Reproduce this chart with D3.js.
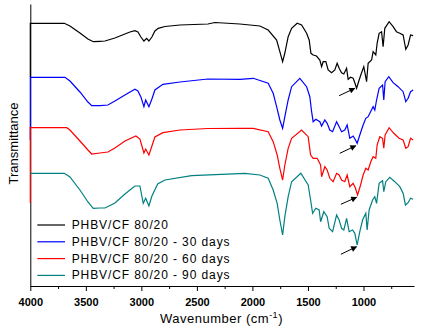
<!DOCTYPE html>
<html>
<head>
<meta charset="utf-8">
<script src="https://cdn.jsdelivr.net/npm/d3@7"></script>
<style>
  html, body { margin: 0; padding: 0; background: #fff; }
  svg { display: block; font-family: "Liberation Sans", Arial, sans-serif; }
</style>
</head>
<body>
<svg id="chart" width="437" height="331"></svg>
<script>
// ---- Data (wavenumber in cm^-1, transmittance in arbitrary offset units) ----
const seriesNames = ["PHBV/CF 80/20", "PHBV/CF 80/20 - 30 days", "PHBV/CF 80/20 - 60 days", "PHBV/CF 80/20 - 90 days"];
const seriesColors = ["#000000", "#0000ff", "#ff0000", "#008080"];

const wnBlack = [4000,4000,3694,3643,3553,3481,3433,3373,3328,3238,3148,3103,3058,3031,3004,2977,2952,2932,2905,2878,2848,2788,2653,2401,2338,2113,1933,1858,1782,1753,1728,1708,1678,1647,1597,1557,1512,1489,1473,1453,1423,1393,1377,1363,1339,1318,1287,1258,1237,1219,1197,1177,1152,1138,1116,1093,1078,1062,1039,1017,997,972,958,927,913,889,877,859,837,823,808,769,733,703,673,643,619,598,576,553];
const tBlack = [209,262.7,262.7,260,253,247,244.3,244.7,245,248,252,254,255.3,254,249,245,247.7,245,249,255,257.7,259.5,261,262,263.5,262,260,256,246,234.3,224.3,233,249.3,257.7,262.7,261,252.7,246,232.7,231,230,226,219.3,224.3,224.3,216,213.3,216,222.7,217.7,213.3,212,217.7,206.7,208.7,207.7,203.3,197.7,206,213.3,219.3,204.3,222.7,226,234.3,231,242.7,252.7,254.3,239.3,257.7,264.3,259.3,254.3,252.7,251,236.7,241,251,250.3];

const wnBlue = [4000,4000,3688,3643,3553,3481,3447,3373,3301,3238,3148,3058,3031,3004,2977,2961,2932,2905,2878,2806,2653,2401,2113,1993,1858,1813,1782,1753,1728,1708,1678,1647,1573,1512,1483,1467,1453,1429,1393,1377,1348,1327,1303,1278,1242,1219,1197,1168,1147,1123,1093,1072,1057,1033,1003,979,958,936,913,898,882,859,828,817,805,772,733,688,643,619,598,576,553];
const tBlue = [146,208.7,208.7,205,194,184,180.3,180.3,181,185,191,196.7,195,189,179.3,186,179.3,187,196,201.7,204,207,206.7,207.7,202.7,192.7,179.3,166,157.7,169.3,186,199.3,207.7,199.3,189.3,174.3,164.3,166.7,164.3,160,166,162.7,156,154.3,164.3,159.3,154.3,156,161,147.7,150,146,142.7,151,161,167.7,169.3,174.3,179.3,176,186,197.7,201,186,204.3,209.3,203.3,199.3,194.3,184.3,187.7,194.3,196];

const wnRed = [4000,4000,3672,3643,3553,3481,3447,3373,3301,3238,3148,3049,3013,2995,2977,2961,2932,2905,2878,2806,2653,2401,2113,1993,1858,1813,1777,1753,1728,1708,1678,1647,1557,1498,1476,1453,1417,1386,1377,1348,1327,1303,1273,1242,1219,1197,1168,1147,1123,1093,1072,1053,1026,1003,979,958,934,913,889,877,853,828,817,805,769,727,679,643,619,598,576,553];
const tRed = [83,158.3,158.3,156,145,136,132,133,134,138,145,150,147,140,133,137,131,140,149,153.3,156,157.5,157.7,157.7,154.3,144.3,131,117.7,106,121,137.7,147.7,156,149.3,131,127.7,127.7,121,109.3,119.3,116,107.7,104.3,112.7,111,106,104.3,111,99.3,102.7,97.7,91,101,111,117.7,116,124.3,129.3,127.7,141,149.3,147.7,137.7,151,158.3,152.7,147.7,146,137.7,139.3,147.7,146];

const wnTeal = [4000,3694,3643,3553,3481,3433,3373,3328,3238,3148,3058,3013,2983,2961,2932,2905,2853,2788,2547,2068,1933,1858,1813,1777,1753,1728,1708,1678,1647,1564,1498,1476,1458,1429,1399,1386,1357,1327,1309,1278,1242,1219,1197,1177,1152,1129,1098,1078,1057,1033,1008,979,967,949,918,898,882,859,828,817,799,763,718,673,643,622,598,576,553];
const tTeal = [112.7,112.7,109,96,84,77.7,78,78,83,92,100,100,82.7,87.7,80,90,102,106,110.3,112.7,111,107.7,96,82.7,66,51,69.3,89.3,104.3,112.7,101,86,72.7,77.7,76,64.3,74.3,69.3,57.7,54.3,71,66,57.7,56,67.7,54.3,56,52.7,41,54.3,66,72.7,56,76,86,89.3,82.7,102.7,105.3,94.3,104.3,108.7,104.3,99.3,92.7,81,83.3,87.7,86.7];

// Arrows pointing at the ~1060 cm^-1 band (tail -> tip)
const arrowTailWn = [1219, 1213, 1204, 1204];
const arrowTipWn  = [1078, 1069, 1062, 1062];
const arrowTailT  = [190.3, 132.7, 81.7, 31.7];
const arrowTipT   = [197.7, 140.3, 88.7, 39.3];

const xMajorTicks = [4000, 3500, 3000, 2500, 2000, 1500, 1000];
const xMinorTicks = [3750, 3250, 2750, 2250, 1750, 1250, 750];

// ---- Layout ----
const svg = d3.select("#chart");
const mLeft = 30.3, mRight = 414, mTop = 4, mBottom = 286;

const x = d3.scaleLinear().domain([4000, 545]).range([mLeft, mRight]);
const y = d3.scaleLinear().domain([0, 282]).range([mBottom, mTop]);

const series = [
  { wn: wnBlack, t: tBlack },
  { wn: wnBlue, t: tBlue },
  { wn: wnRed, t: tRed },
  { wn: wnTeal, t: tTeal }
];

// Axes
const gx = svg.append("g").attr("transform", `translate(0,${mBottom})`);
gx.call(d3.axisBottom(x).tickValues(xMinorTicks).tickFormat("").tickSize(3).tickSizeOuter(0));
const gx2 = svg.append("g").attr("transform", `translate(0,${mBottom})`);
gx2.call(d3.axisBottom(x).tickValues(xMajorTicks).tickFormat(d3.format("d")).tickSize(5).tickPadding(7).tickSizeOuter(0));
gx2.select(".domain").remove();
gx.select(".domain").attr("stroke", "#000").attr("stroke-width", 1);
svg.selectAll(".tick line").attr("stroke", "#000");
gx2.selectAll(".tick text")
  .attr("font-size", 11).attr("font-weight", "bold")
  .attr("font-family", "'Liberation Sans', Arial, sans-serif").attr("fill", "#000");

const gy = svg.append("g").attr("transform", `translate(${mLeft},0)`);
gy.call(d3.axisLeft(y).tickValues([]).tickSizeOuter(0));
gy.select(".domain").attr("stroke", "#000");

// Lines
const line = d3.line().x(d => x(d[0])).y(d => y(d[1]));
series.forEach((s, i) => {
  const pts = s.wn.map((w, k) => [w, s.t[k]]);
  svg.append("path")
    .datum(pts)
    .attr("fill", "none")
    .attr("stroke", seriesColors[i])
    .attr("stroke-width", 1.2)
    .attr("stroke-linejoin", "miter")
    .attr("d", line);
});

// Arrows
svg.append("defs").append("marker")
  .attr("id", "ah").attr("viewBox", "0 0 10 10")
  .attr("refX", 9).attr("refY", 5)
  .attr("markerWidth", 8).attr("markerHeight", 6)
  .attr("markerUnits", "userSpaceOnUse")
  .attr("orient", "auto")
  .append("path").attr("d", "M0,0 L10,5 L0,10 Z").attr("fill", "#000");

arrowTailWn.forEach((w, i) => {
  svg.append("line")
    .attr("x1", x(w)).attr("y1", y(arrowTailT[i]))
    .attr("x2", x(arrowTipWn[i])).attr("y2", y(arrowTipT[i]))
    .attr("stroke", "#000").attr("stroke-width", 1)
    .attr("marker-end", "url(#ah)");
});

// Legend
const legX0 = 37.3, legX1 = 65, legTextX = 71.7, legY0 = 229, legDy = 16.8;
seriesNames.forEach((name, i) => {
  const by = legY0 + i * legDy;
  svg.append("line")
    .attr("x1", legX0).attr("x2", legX1)
    .attr("y1", by - 4).attr("y2", by - 4)
    .attr("stroke", seriesColors[i]).attr("stroke-width", 1.2);
  svg.append("text")
    .attr("x", legTextX).attr("y", by)
    .attr("font-size", 12).attr("letter-spacing", 0.9)
    .attr("fill", "#000")
    .text(name);
});

// Axis titles
const xt = svg.append("text")
  .attr("x", 221.5).attr("y", 323)
  .attr("text-anchor", "middle")
  .attr("font-size", 13).attr("letter-spacing", 0.5)
  .attr("fill", "#000");
xt.append("tspan").text("Wavenumber (cm");
xt.append("tspan").attr("font-size", 9).attr("dy", -5).text("-1");
xt.append("tspan").attr("dy", 5).text(")");

svg.append("text")
  .attr("transform", "translate(18.3,143.5) rotate(-90)")
  .attr("text-anchor", "middle")
  .attr("font-size", 13)
  .attr("fill", "#000")
  .text("Transmittance");
</script>
</body>
</html>
